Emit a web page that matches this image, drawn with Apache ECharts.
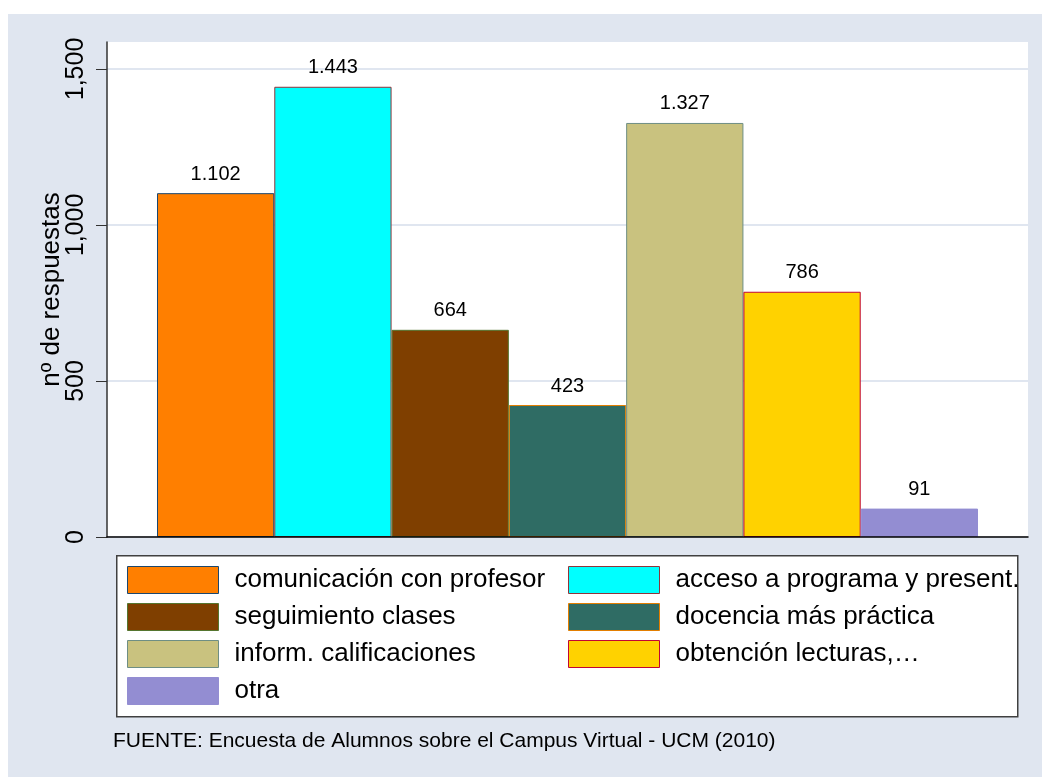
<!DOCTYPE html>
<html>
<head>
<meta charset="utf-8">
<script src="https://cdn.jsdelivr.net/npm/echarts@6/dist/echarts.min.js"></script>
<style>
html,body{margin:0;padding:0;background:#fff;}
#chart{width:1042px;height:777px;}
</style>
</head>
<body>
<div id="chart"></div>
<script>
// ---- data ----
const categories = ['comunicación con profesor','acceso a programa y present.','seguimiento clases','docencia más práctica','inform. calificaciones','obtención lecturas,…','otra'];
const values = [1102, 1443, 664, 423, 1327, 786, 91];
const fillColors = ['#FF7F00','#00FFFF','#7F3F00','#2F6C64','#C9C27F','#FFD200','#938DD2'];
const borderColors = ['#1A476F','#90353B','#55752F','#E37E00','#6E8E84','#C10534','#938DD2'];
const yTicks = [0, 500, 1000, 1500];
const legendLeft = ['comunicación con profesor','seguimiento clases','inform. calificaciones','otra'];
const legendRight = ['acceso a programa y present.','docencia más práctica','obtención lecturas,…'];
const sourceNote = 'FUENTE: Encuesta de Alumnos sobre el Campus Virtual - UCM (2010)';
const yName = 'nº de respuestas';

const FONT = "'Liberation Sans', Arial, sans-serif";
const Y_MAX = 1586.5;

function sep(v, ch){ return String(v).replace(/\B(?=(\d{3})+(?!\d))/g, ch); }

const series = categories.map((name, i) => ({
  name: name,
  type: 'bar',
  xAxisIndex: 1,
  yAxisIndex: 1,
  stack: 'all',
  barWidth: '100%',
  data: categories.map((_, j) => j === i ? values[i] : null),
  itemStyle: { color: fillColors[i], borderColor: borderColors[i], borderWidth: 1 },
  label: {
    show: true, position: 'top', distance: 9,
    fontFamily: FONT, fontSize: 20, color: '#000',
    formatter: p => sep(p.value, '.')
  }
}));

const legendCommon = {
  orient: 'vertical', icon: 'rect', itemWidth: 91, itemHeight: 27, itemGap: 9,
  padding: 0, selectedMode: false,
  itemStyle: { borderWidth: 1 },
  textStyle: { fontFamily: FONT, fontSize: 26, color: '#000', padding: [0,0,0,11] }
};

const chart = echarts.init(document.getElementById('chart'), null, { renderer: 'canvas' });
chart.setOption({
  backgroundColor: '#ffffff',
  animation: false,
  graphic: [
    { type: 'rect', left: 8, top: 14, shape: { width: 1034, height: 763 }, style: { fill: '#E0E6F0' }, z: -100, silent: true },
    { type: 'rect', left: 116, top: 555, shape: { width: 901, height: 161 }, style: { fill: '#ffffff', stroke: '#404040', lineWidth: 1.5 }, z: 1, silent: true }
  ],
  title: {
    text: sourceNote, left: 113, top: 731, padding: 0,
    textStyle: { fontFamily: FONT, fontSize: 21, fontWeight: 'normal', color: '#000' }
  },
  legend: [
    Object.assign({ left: 127, top: 566, data: legendLeft }, legendCommon),
    Object.assign({ left: 568, top: 566, data: legendRight }, legendCommon)
  ],
  grid: [
    { left: 107, right: 14, top: 42, bottom: 240, show: true, backgroundColor: '#ffffff', borderWidth: 0 },
    { left: 157, right: 64, top: 42, bottom: 240 }
  ],
  xAxis: [
    { gridIndex: 0, type: 'value', min: 0, max: 1, z: 5,
      axisLine: { show: true, lineStyle: { color: '#000', width: 1.5 } },
      axisTick: { show: false }, axisLabel: { show: false }, splitLine: { show: false } },
    { gridIndex: 1, type: 'category', data: categories, show: false }
  ],
  yAxis: [
    { gridIndex: 0, type: 'value', min: 0, max: Y_MAX, interval: 500,
      name: yName, nameLocation: 'middle', nameRotate: 90, nameGap: 42, nameMoveOverlap: false,
      nameTextStyle: { fontFamily: FONT, fontSize: 26, color: '#000' },
      axisLine: { show: true, lineStyle: { color: '#333', width: 1.5 } },
      axisTick: { show: true, length: 11, customValues: yTicks, lineStyle: { color: '#333', width: 1 } },
      axisLabel: { rotate: 90, margin: 18, customValues: yTicks, fontFamily: FONT, fontSize: 25, color: '#000',
        formatter: v => sep(v, ',') },
      splitLine: { show: true, lineStyle: { color: '#E0E6F0', width: 2 } }
    },
    { gridIndex: 1, type: 'value', min: 0, max: Y_MAX, show: false, splitLine: { show: false } }
  ],
  series: series
});
</script>
</body>
</html>
